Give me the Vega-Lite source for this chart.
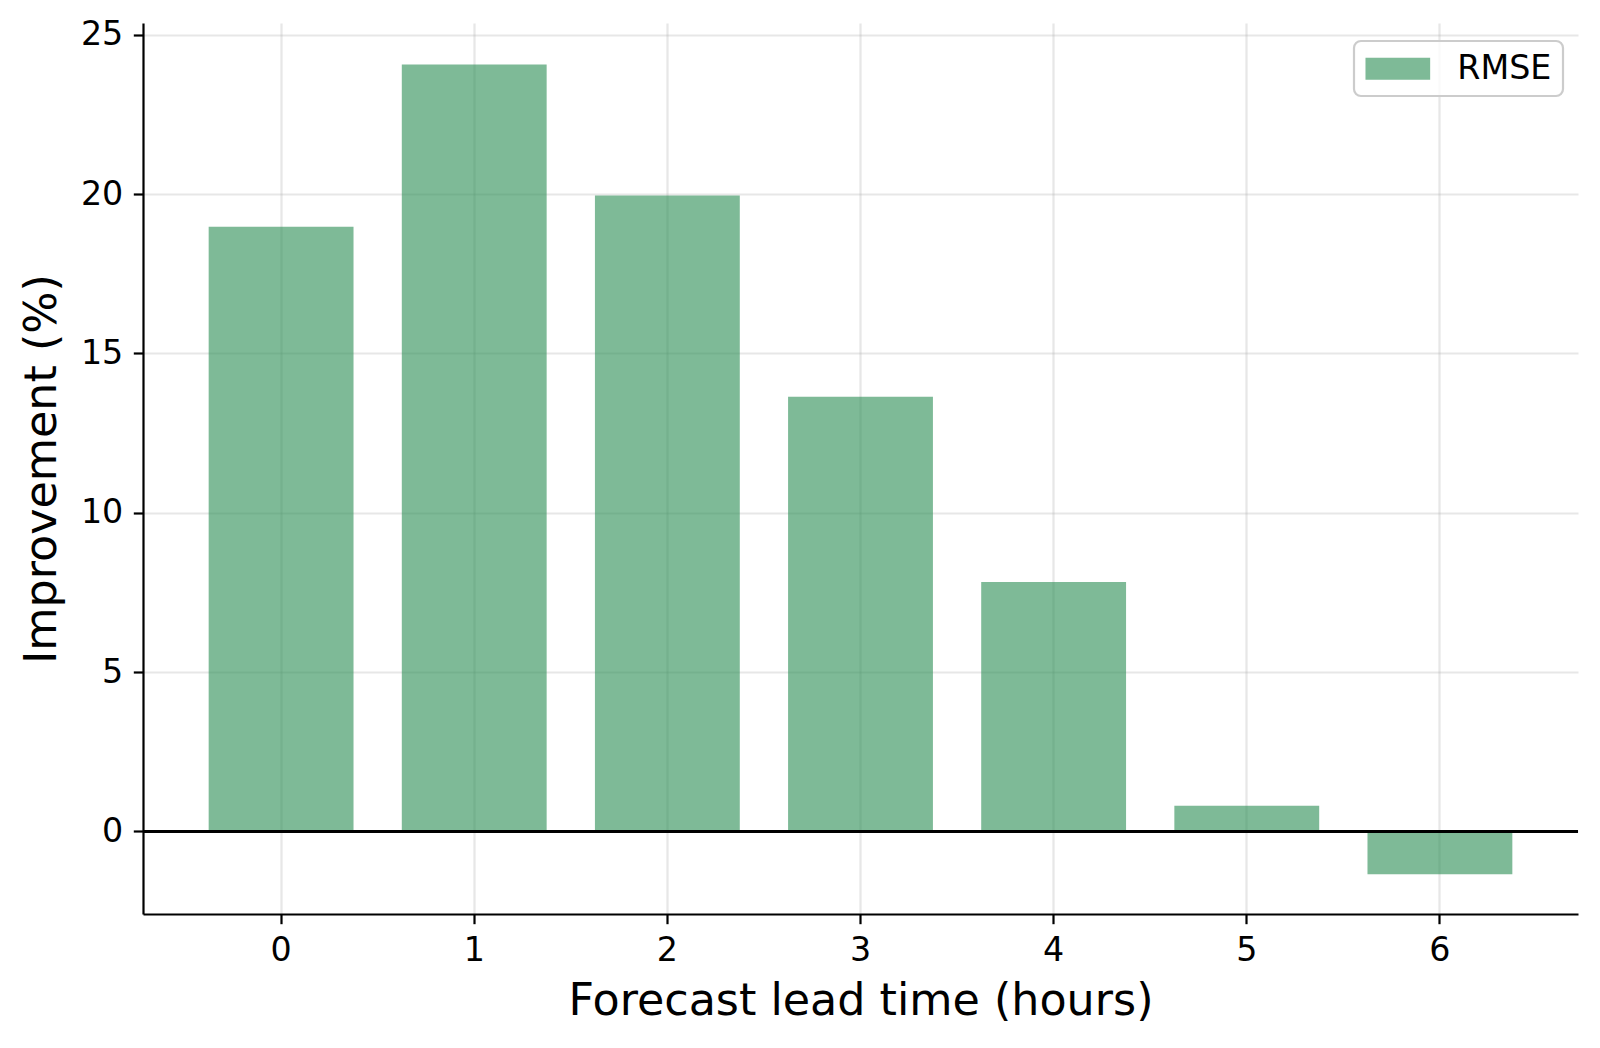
{
  "$schema": "https://vega.github.io/schema/vega-lite/v6.json",
  "autosize": "none",
  "width": 1435,
  "height": 891,
  "padding": {"left": 143, "top": 23, "right": 22, "bottom": 134},
  "background": "white",
  "config": {
    "view": {"stroke": null},
    "font": "DejaVu Sans",
    "axis": {
      "domainColor": "black",
      "domainWidth": 2.2,
      "tickColor": "black",
      "tickWidth": 2.2,
      "tickSize": 9.7,
      "labelFont": "DejaVu Sans",
      "labelFontSize": 33.3,
      "labelColor": "black",
      "labelPadding": 10.5,
      "titleFont": "DejaVu Sans",
      "titleFontSize": 44.4,
      "titleFontWeight": "normal",
      "titleColor": "black",
      "gridColor": "#b0b0b0",
      "gridOpacity": 0.3,
      "gridWidth": 2.2
    }
  },
  "data": {
    "values": [
      {"lead": 0, "improvement": 18.98, "metric": "RMSE"},
      {"lead": 1, "improvement": 24.07, "metric": "RMSE"},
      {"lead": 2, "improvement": 19.96, "metric": "RMSE"},
      {"lead": 3, "improvement": 13.64, "metric": "RMSE"},
      {"lead": 4, "improvement": 7.83, "metric": "RMSE"},
      {"lead": 5, "improvement": 0.81, "metric": "RMSE"},
      {"lead": 6, "improvement": -1.34, "metric": "RMSE"}
    ]
  },
  "layer": [
    {
      "mark": {"type": "bar", "opacity": 0.62},
      "encoding": {
        "x": {
          "field": "lead",
          "type": "ordinal",
          "sort": "ascending",
          "scale": {"paddingInner": 0.25, "paddingOuter": 0.34},
          "axis": {
            "title": "Forecast lead time (hours)",
            "labelAngle": 0,
            "bandPosition": 0.5,
            "grid": true,
            "titlePadding": 13
          }
        },
        "y": {
          "field": "improvement",
          "type": "quantitative",
          "scale": {"domain": [-2.59, 25.37], "nice": false, "zero": false},
          "axis": {
            "title": "Improvement (%)",
            "values": [0, 5, 10, 15, 20, 25],
            "grid": true,
            "titlePadding": 16
          }
        },
        "color": {
          "field": "metric",
          "type": "nominal",
          "scale": {"domain": ["RMSE"], "range": ["#2E8F57"]},
          "legend": {
            "title": null,
            "orient": "none",
            "legendX": 1211,
            "legendY": 18,
            "padding": 11,
            "strokeColor": "#cccccc",
            "cornerRadius": 7,
            "fillColor": "rgba(255,255,255,0.8)",
            "symbolType": "M-1,-0.68H3V0.68H-1Z",
            "symbolSize": 1046,
            "symbolOpacity": 0.62,
            "labelFont": "DejaVu Sans",
            "labelFontSize": 33.3,
            "labelColor": "black",
            "labelOffset": 59,
            "encode": {
              "legend": {"update": {"strokeWidth": {"value": 2.2}}},
              "symbols": {"update": {"strokeWidth": {"value": 0}}}
            }
          }
        }
      }
    },
    {
      "mark": {"type": "rule", "color": "black", "strokeWidth": 2.2},
      "encoding": {"y": {"datum": 0}}
    }
  ]
}
